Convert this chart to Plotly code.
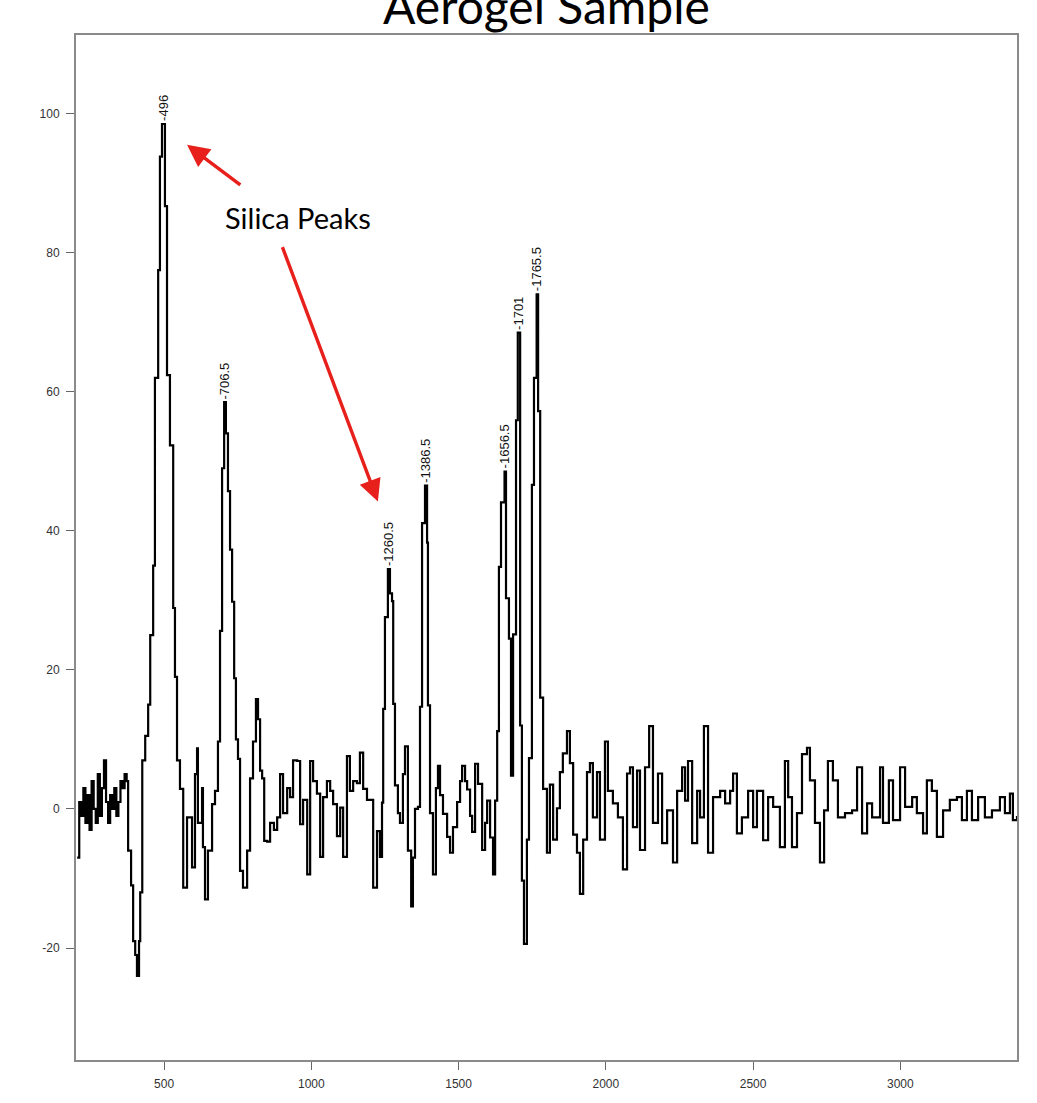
import plotly.graph_objects as go

# ---- data ----
wavenumber = [
    205, 212, 219, 226, 233, 240, 247, 254, 261, 268, 275, 282, 289, 296, 303, 310, 317, 324, 331, 338,
    345, 352, 359, 366, 373, 378, 388, 395, 402, 408, 415, 419, 426, 436, 446, 453, 463, 469, 480, 486,
    493, 503, 510, 520, 531, 537, 544, 554, 565, 578, 595, 605, 612, 615, 629, 632, 639, 649, 663, 673,
    683, 690, 697, 704, 710, 717, 724, 731, 738, 744, 751, 758, 768, 782, 792, 802, 812, 819, 826, 833,
    840, 850, 860, 873, 884, 894, 904, 918, 928, 938, 952, 962, 972, 986, 996, 1006, 1019, 1030, 1040, 1053,
    1064, 1074, 1087, 1098, 1108, 1121, 1131, 1142, 1155, 1165, 1176, 1189, 1199, 1210, 1223, 1233, 1240, 1244, 1250, 1260,
    1267, 1274, 1278, 1284, 1294, 1301, 1311, 1318, 1328, 1339, 1345, 1352, 1362, 1369, 1376, 1386, 1393, 1396, 1403, 1413,
    1423, 1430, 1437, 1447, 1461, 1471, 1481, 1495, 1505, 1512, 1522, 1529, 1539, 1546, 1556, 1566, 1580, 1590, 1597, 1607,
    1617, 1624, 1631, 1637, 1644, 1656, 1661, 1671, 1678, 1685, 1695, 1701, 1709, 1715, 1722, 1732, 1739, 1749, 1756, 1765,
    1770, 1777, 1787, 1800, 1810, 1821, 1834, 1844, 1854, 1868, 1878, 1889, 1902, 1912, 1923, 1936, 1946, 1956, 1970, 1980,
    1997, 2007, 2024, 2041, 2058, 2072, 2082, 2092, 2106, 2116, 2133, 2147, 2160, 2177, 2191, 2208, 2228, 2242, 2259, 2269,
    2279, 2293, 2310, 2320, 2333, 2347, 2364, 2388, 2405, 2422, 2432, 2445, 2462, 2483, 2500, 2513, 2534, 2551, 2568, 2591,
    2608, 2619, 2632, 2649, 2666, 2683, 2693, 2710, 2727, 2741, 2754, 2771, 2788, 2812, 2836, 2853, 2870, 2887, 2904, 2931,
    2941, 2961, 2975, 2999, 3016, 3040, 3056, 3077, 3090, 3107, 3124, 3145, 3168, 3192, 3209, 3226, 3243, 3264, 3287, 3311,
    3338, 3355, 3372, 3382, 3396,
]
intensity = [
    -7, 1, -1, 3, -2, 2, -3, 4, 0, -2, 5, -1, 3, 7, 1, -2, 2, 0, 3, -1,
    1, 4, 3, 5, 4, -6, -11, -19, -21, -24, -19, -12, 7, 10.5, 15, 25, 35, 62, 77.5, 93.8,
    98.5, 86.7, 62.4, 52.3, 28.9, 19, 7, 2.9, -11.3, -1.2, -8.4, 5, 8.7, -2, 3, -5.5, -13, -6, 0.7, 2.6,
    9.7, 25.6, 49, 58.5, 54, 45.7, 37.3, 29.8, 18.8, 10, 7.2, -8.9, -11.3, -6, 4.4, 9.7, 15.8, 12.9, 5.5, 4.4,
    -4.6, -4.7, -2, -3, -1.2, 5, -0.6, 3, 1.7, 7, 6.9, -2.2, 1.3, -9.4, 6.9, 4, 2.2, -6.9, 1.7, 4,
    2.6, 0.7, -3.9, 0.2, -6.9, 7.6, 2.6, 4, 3.7, 8.1, 2.9, 1.3, 1.3, -11.3, -3.2, -6.9, 0.9, 14.4, 27.6, 34.5,
    31, 29.9, 15.1, 3.4, -0.6, -2, 5, 9, -6, -14, -7, 0, 0.3, 14.7, 41.1, 46.5, 38.3, 14.9, -0.6, -9.4,
    3, 6.2, 2, -0.7, -4, -6.3, -2.6, 1, 4, 6.2, 4, 2.8, -1, -3.3, 6.5, 3.6, -5.9, -2, 1.2, -4.1,
    -9.4, 1.2, 11.2, 34.8, 44.1, 48.5, 30.3, 24.5, 4.8, 25.1, 55.9, 68.5, 12, -10.3, -19.4, -4.4, 7.3, 46.6, 62, 74,
    57.2, 16, 2.9, -6.3, 3.5, -4.4, 0.1, 5.3, 8, 11.2, 6.6, -3.7, -6.3, -12.2, -4.4, 5.3, 6.6, -1.2, 5.3, -4.4,
    9.7, 2.6, 0.8, -1.2, -8.7, 5.1, 6, -2.6, 5.5, -5.9, 6, 11.9, -2, 5.1, -4.9, -0.2, -7.7, 2.6, 6, 1.2,
    6.9, -4.9, 2.6, -1.2, 11.9, -6.3, 1.7, 2.6, 0.8, 2.6, 5.1, -3.5, -1.2, 2.6, -2.6, 2.6, -4.5, 1.7, 0.3, -5.5,
    6.9, 1.7, -5.5, -0.6, 7.9, 8.8, 4.1, -2, -7.7, -0.2, 6.9, 4.1, -1.2, -0.6, -0.2, 6, -3.5, 0.8, -1.2, 6,
    -2, 4.1, -1.6, 6, 0.3, 1.7, -0.6, -3.5, 4.1, 2.6, -4, -0.2, 1.3, 1.7, -1.6, 2.6, -1.6, 1.7, -1.2, -0.2,
    1.7, -0.6, 2.2, -1.6, -1,
]
assert len(wavenumber) == len(intensity)

peak_x = [496, 706.5, 1260.5, 1386.5, 1656.5, 1701, 1765.5]
peak_y = [98.5, 58.5, 34.5, 46.5, 48.5, 68.5, 74]
peak_labels = ["496", "706.5", "1260.5", "1386.5", "1656.5", "1701", "1765.5"]

x_ticks = [500, 1000, 1500, 2000, 2500, 3000]
y_ticks = [-20, 0, 20, 40, 60, 80, 100]

title_text = "Aerogel Sample"
note_text = "Silica Peaks"
note_pos = (955, 85.1)
arrow1 = dict(head=(578, 95.5), tail=(764, 89.6))
arrow2 = dict(head=(1226, 44.2), tail=(900, 81))

fig = go.Figure()
fig.add_trace(go.Scatter(
    x=wavenumber, y=intensity, mode="lines",
    line=dict(color="black", width=2.2, shape="hv"),
    hoverinfo="skip", showlegend=False,
))

annotations = []
for px_, py_, lab in zip(peak_x, peak_y, peak_labels):
    annotations.append(dict(
        x=px_, y=py_, xref="x", yref="y", text="-" + lab, showarrow=False,
        textangle=-90, xanchor="center", yanchor="bottom", yshift=1,
        font=dict(family="Liberation Sans Narrow, Arial Narrow, Arial", size=13, color="#111"),
    ))

annotations.append(dict(
    x=note_pos[0], y=note_pos[1], xref="x", yref="y", text=note_text, showarrow=False,
    font=dict(family="Lato, Carlito, Calibri, sans-serif", size=29, color="black"),
))
for a in (arrow1, arrow2):
    annotations.append(dict(
        x=a["head"][0], y=a["head"][1], xref="x", yref="y",
        ax=a["tail"][0], ay=a["tail"][1], axref="x", ayref="y",
        text="", showarrow=True, arrowhead=2, arrowsize=1.3, arrowwidth=3.4,
        arrowcolor="#e8201c", standoff=0, startstandoff=0,
    ))

annotations.append(dict(
    x=0.5, y=1.0, xref="paper", yref="paper", yshift=30,
    text=title_text, showarrow=False, xanchor="center", yanchor="middle",
    font=dict(family="Lato, Carlito, Calibri, sans-serif", size=48, color="black"),
))

axis_common = dict(
    showgrid=False, zeroline=False, showline=True, mirror=True,
    linecolor="#8a8a8a", linewidth=2, ticks="outside", ticklen=8, tickcolor="#666",
    tickfont=dict(family="Liberation Sans Narrow, Arial", size=12, color="#333"),
    ticklabelstandoff=4,
)

fig.update_layout(
    width=1037, height=1103,
    margin=dict(l=76, r=20, t=35, b=30),
    paper_bgcolor="white", plot_bgcolor="white",
    annotations=annotations,
    xaxis=dict(range=[201, 3396], tickvals=x_ticks,
               ticktext=[str(v) for v in x_ticks], **axis_common),
    yaxis=dict(range=[-36.1, 111.3], tickvals=y_ticks,
               ticktext=[str(v) for v in y_ticks], **axis_common),
)

fig.write_html("out.html", config={"displayModeBar": False, "staticPlot": True},
               post_script="document.body.style.margin='0px';")
